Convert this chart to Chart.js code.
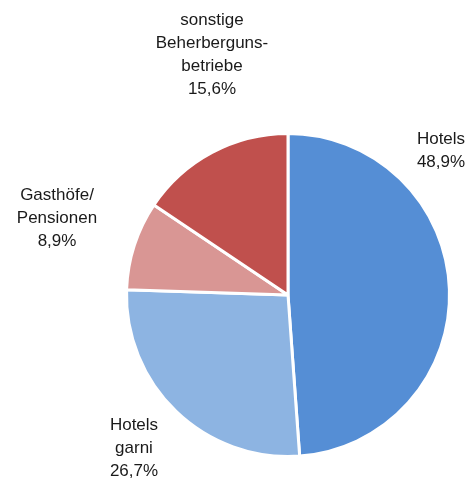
<!DOCTYPE html>
<html>
<head>
<meta charset="utf-8">
<script src="https://cdn.jsdelivr.net/npm/chart.js@4.4.0/dist/chart.umd.min.js"></script>
<style>
  html, body { margin: 0; padding: 0; background: #fff; }
  #wrap { width: 469px; height: 480px; position: relative; }
</style>
</head>
<body>
<div id="wrap"><canvas id="pie"></canvas></div>
<script>
// data
const categories = ['Hotels', 'Hotels garni', 'Gasthöfe/Pensionen', 'sonstige Beherbergungsbetriebe'];
const shares = [48.9, 26.7, 8.9, 15.6];
const sliceColors = ['#558ed5', '#8db4e2', '#d99694', '#c0504d'];
// label text lines (without the value) and where the label block is centred
const labelLines = [['Hotels'], ['Hotels', 'garni'], ['Gasthöfe/', 'Pensionen'], ['sonstige', 'Beherberguns-', 'betriebe']];
const labelCentres = [[441, 151], [134, 448], [57, 218], [212, 55]];

const outsideLabels = {
    id: 'outsideLabels',
    afterDatasetsDraw(chart) {
        const ctx = chart.ctx;
        ctx.save();
        ctx.font = '17px "Liberation Sans", Arial, sans-serif';
        ctx.fillStyle = '#1a1a1a';
        ctx.textAlign = 'center';
        ctx.textBaseline = 'middle';
        const lh = 23;
        shares.forEach((v, i) => {
            let lines = labelLines[i].concat([v.toFixed(1).replace('.', ',') + '%']);
            let [cx, cy] = labelCentres[i];
            let y0 = cy - (lines.length - 1) * lh / 2;
            lines.forEach((t, k) => ctx.fillText(t, cx, y0 + k * lh));
        });
        ctx.restore();
    }
};

var ctxP = document.getElementById('pie').getContext('2d');
var myPieChart = new Chart(ctxP, {
    type: 'pie',
    plugins: [outsideLabels],
    data: {
        labels: categories,
        datasets: [{
            data: shares,
            backgroundColor: sliceColors,
            borderColor: '#ffffff',
            borderWidth: 3
        }]
    },
    options: {
        responsive: true,
        maintainAspectRatio: false,
        animation: false,
        layout: {
            padding: { left: 125, right: 18, top: 132, bottom: 22 }
        },
        plugins: {
            legend: { display: false },
            tooltip: { enabled: false }
        }
    }
});
</script>
</body>
</html>
